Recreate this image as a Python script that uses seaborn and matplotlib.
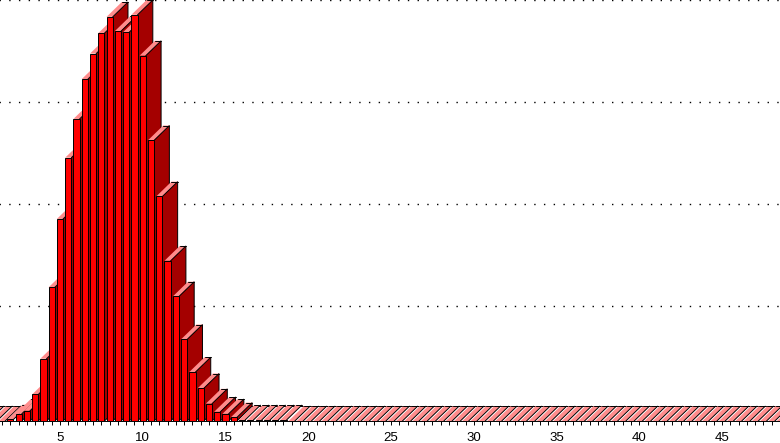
import matplotlib
matplotlib.use("Agg")
import matplotlib.pyplot as plt
from matplotlib.patches import Polygon
from matplotlib.ticker import MultipleLocator
import numpy as np
import pandas as pd
import seaborn as sns

# bar heights in grid units, the picture has no y labels
low_x = [0.5, 1.0, 1.5]
low_values = [0, 0, 0]
main_x = [2.0, 2.5, 3.0, 3.5, 4.0, 4.5, 5.0, 5.5, 6.0, 6.5, 7.0, 7.5, 8.0, 8.5, 9.0, 9.5,
          10.0, 10.5, 11.0, 11.5, 12.0, 12.5, 13.0, 13.5, 14.0, 14.5, 15.0, 15.5, 16.0, 16.5, 17.0,
          17.5, 18.0, 18.5]
main_values = [0.015, 0.07, 0.10, 0.26, 0.61, 1.31, 1.98, 2.58, 2.96, 3.35, 3.60, 3.80, 3.96, 3.82, 3.81, 3.98,
               3.58, 2.75, 2.20, 1.57, 1.22, 0.80, 0.48, 0.32, 0.17, 0.09, 0.07, 0.035, 0.01, 0.01, 0.01,
               0.01, 0.01, 0.01]
tail_x = [19.0 + 0.5 * i for i in range(60)]
tail_values = [0] * 60
grid_levels = [1, 2, 3, 4]
major_ticks = [5, 10, 15, 20, 25, 30, 35, 40, 45]

depth_x = 0.92
depth_y = 0.145
wall_y = 0.128

df = pd.DataFrame({"x": low_x + main_x + tail_x, "y": low_values + main_values + tail_values})

sns.set_style("white")
plt.rcParams['font.family'] = ['Liberation Sans', 'DejaVu Sans']

fig = plt.figure(figsize=(7.8, 4.43), dpi=100)
ax = fig.add_axes([0, 22 / 443, 1, 421 / 443])

sns.barplot(data=df, x="x", y="y", native_scale=True, width=0.75, color="#ff0000",
            saturation=1, edgecolor="black", linewidth=0.7, ax=ax, zorder=3)

# fake 3d: top and side faces, left to right so later bars cover earlier ones
for i, bar in enumerate(list(ax.patches)):
    x0, w, h = bar.get_x(), bar.get_width(), bar.get_height()
    x1 = x0 + w
    top = [(x0, h), (x1, h), (x1 + depth_x, h + depth_y), (x0 + depth_x, h + depth_y)]
    z = 3 + i * 0.01
    ax.add_patch(Polygon(top, closed=True, fc="#ff8c8c", ec="none", zorder=z))
    ax.plot([x0 + depth_x, x1 + depth_x], [h + depth_y, h + depth_y], color="black", lw=0.7, zorder=z + 0.001)
    if h >= 0.02:
        side = [(x1, 0), (x1 + depth_x, depth_y), (x1 + depth_x, h + depth_y), (x1, h)]
        ax.add_patch(Polygon(side, closed=True, fc="#a40000", ec="black", lw=0.7, zorder=z + 0.002))
    else:
        # flat bars only show one diagonal, that is what makes the hatch
        ax.plot([x1, x1 + depth_x], [h, h + depth_y], color="black", lw=0.7, zorder=z + 0.002)
    bar.set_zorder(z + 0.005)

ax.hlines([lv + wall_y for lv in grid_levels], 0, 50, colors="black", lw=1,
          linestyles=[(0, (1, 6))], zorder=1)

# back edge of the floor strip runs unbroken in the reference
ax.hlines(depth_y, 0, 50, colors="black", lw=0.7, zorder=2.9)

ax.set_xlim(1.375, 48.5)
ax.set_ylim(0, 4.125)
ax.set_xlabel("")
ax.set_ylabel("")
ax.set_yticks([])
ax.xaxis.set_minor_locator(MultipleLocator(0.5))
ax.set_xticks(major_ticks)
ax.set_xticklabels([str(t) for t in major_ticks], fontsize=9.5, color="black")
ax.tick_params(axis="x", which="both", bottom=True, length=3, width=0.7, color="black", direction="out")
ax.tick_params(axis="x", which="major", pad=5)
sns.despine(ax=ax, left=True, top=True, right=True)
ax.spines["bottom"].set_color("black")
ax.spines["bottom"].set_linewidth(0.7)

fig.savefig("out.png", dpi=100)
